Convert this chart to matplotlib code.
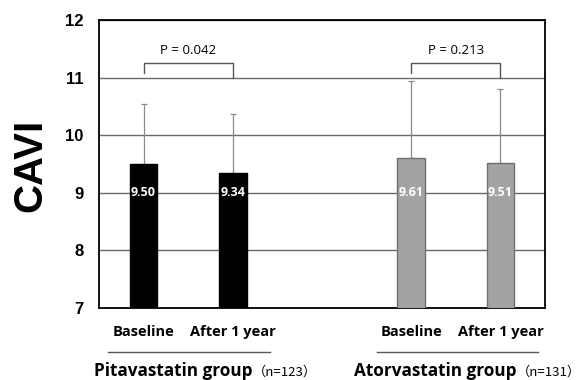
import matplotlib.pyplot as plt
import numpy as np

# CAVI means with upper SD, two statin groups
conditions = ["Baseline", "After 1 year", "Baseline", "After 1 year"]
cavi_mean = [9.50, 9.34, 9.61, 9.51]
cavi_sd = [1.04, 1.03, 1.33, 1.29]
groups = ["Pitavastatin group", "Atorvastatin group"]
group_n = [123, 131]
p_values = ["0.042", "0.213"]

W, H = 580, 380
fig = plt.figure(figsize=(W / 100, H / 100), dpi=100)
ax = fig.add_axes([99 / W, (H - 308) / H, 446 / W, 288 / H])

xpos = np.array([0.5, 1.5, 3.5, 4.5])
face = ["black", "black", "#a3a3a6", "#a3a3a6"]
edge = ["black", "black", "#6f6f6f", "#6f6f6f"]

ax.errorbar(xpos, cavi_mean, yerr=[np.zeros(4), cavi_sd], fmt="none",
            ecolor="#8c8c8c", elinewidth=0.9, capsize=2.5, capthick=0.9, zorder=2)
ax.bar(xpos, cavi_mean, width=0.31, color=face, edgecolor=edge, linewidth=1.0, zorder=3)

for x, m in zip(xpos, cavi_mean):
    ax.text(x, 9.0, f"{m:.2f}", color="white", ha="center", va="center",
            fontsize=9, fontweight="bold", family="Open Sans", zorder=4)

ax.set_xlim(0, 5)
ax.set_ylim(7, 12)
ax.set_yticks([7, 8, 9, 10, 11, 12])
ax.set_yticklabels(["7", "8", "9", "10", "11", "12"], fontsize=12,
                   fontweight="bold", family="Liberation Sans")
ax.tick_params(axis="y", length=0, pad=11)
ax.set_xticks([])
ax.yaxis.grid(True, color="#6a6a6a", linewidth=1.0, zorder=0)
ax.set_axisbelow(True)
for s in ax.spines.values():
    s.set_color("black")
    s.set_linewidth(1.3)

# significance brackets
for i, p in enumerate(p_values):
    x0, x1 = xpos[2 * i], xpos[2 * i + 1]
    top = 11.25
    ax.plot([x0, x0, x1, x1], [11.08, top, top, 11.0], color="#555555",
            linewidth=1.0, zorder=3)
    ax.text((x0 + x1) / 2, top + 0.1, f"P = {p}", ha="center", va="bottom",
            fontsize=9.5, family="Open Sans")

# condition labels under the bars
for x, lab in zip(xpos, conditions):
    ax.text(x, -0.06, lab, transform=ax.get_xaxis_transform(), ha="center",
            va="top", fontsize=10.5, fontweight="bold", family="Open Sans")

fig.text(30 / W, 1 - 165 / H, "CAVI", rotation=90, ha="center", va="center",
         fontsize=29, fontweight="bold", family="Liberation Sans")

# group captions with rule above
rule_x = [(108, 270), (377, 538)]
split_x = [253, 517]
for g, n, (a, b), sx in zip(groups, group_n, rule_x, split_x):
    fig.add_artist(plt.Line2D([a / W, b / W], [1 - 352 / H, 1 - 352 / H],
                              color="#555555", linewidth=1.0))
    fig.text(sx / W, 1 - 376 / H, g, ha="right", va="baseline", fontsize=12.3,
             fontweight="bold", family="Open Sans")
    fig.text(sx / W, 1 - 376 / H, f"（n={n}）", ha="left", va="baseline",
             fontsize=9.5, family=["Noto Sans CJK JP", "DejaVu Sans"])

fig.savefig("out.png", dpi=100)
